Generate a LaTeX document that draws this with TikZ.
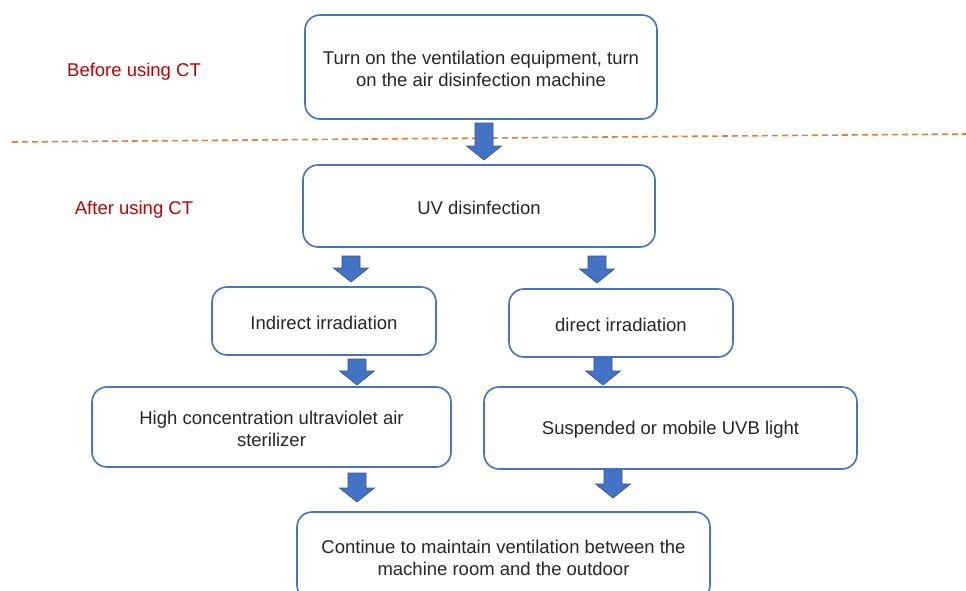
\documentclass[tikz,border=0pt]{standalone}
\usepackage{fontspec}
\setmainfont{Liberation Sans}
\definecolor{boxblue}{HTML}{4472C4}
\definecolor{arrowedge}{HTML}{2F5597}
\definecolor{txtgray}{HTML}{262626}
\definecolor{lblred}{HTML}{C00000}
\definecolor{dashorange}{HTML}{ED7D31}
\tikzset{
  flowbox/.style={draw=boxblue, line width=1.6pt, rounded corners=15pt, fill=white, inner sep=0pt},
  boxtext/.style={align=center, text=txtgray, font=\fontsize{18.5}{21.5}\selectfont, inner sep=0pt, yshift=-2pt},
  sidelabel/.style={text=lblred, font=\fontsize{18.5}{21.5}\selectfont, inner sep=0pt},
  blockarrow/.style={fill=boxblue, draw=arrowedge, line width=0.6pt, line join=miter},
}
% down block arrow: x, ytop, ybottom
\newcommand\dnarrow[3]{%
  \path[blockarrow] (#1-9,#2) -- (#1+9,#2) -- (#1+9,#3-14) -- (#1+17.5,#3-14)
    -- (#1,#3) -- (#1-17.5,#3-14) -- (#1-9,#3-14) -- cycle;}
\begin{document}
\begin{tikzpicture}[x=1pt,y=-1pt]
\clip (0,0) rectangle (966,590);
\fill[white] (0,0) rectangle (966,590);

% dashed separator
\coordinate (dl) at (12,142);
\coordinate (dr) at (966,134);
\draw[dashorange, line width=1.6pt, dash pattern=on 6pt off 4pt] (dl) -- (dr);

% arrows
\dnarrow{484}{123}{160}
\dnarrow{351}{256}{282}
\dnarrow{597}{256}{283}
\dnarrow{357}{359}{385}
\dnarrow{603}{358}{385}
\dnarrow{357}{473}{502}
\dnarrow{613}{470}{498}

% boxes
\node[flowbox, minimum width=352pt, minimum height=104pt] (top) at (481,67) {};
\node[boxtext] (toptext) at (top.center)
  {Turn on the ventilation equipment, turn\\on the air disinfection machine};
\node[flowbox, minimum width=352pt, minimum height=82pt] (uv) at (479,206) {};
\node[boxtext] (uvtext) at (uv.center) {UV disinfection};
\node[flowbox, minimum width=224pt, minimum height=68pt] (ind) at (324,321) {};
\node[boxtext] (indtext) at (ind.center) {Indirect irradiation};
\node[flowbox, minimum width=224pt, minimum height=68pt] (dir) at (621,323) {};
\node[boxtext] (dirtext) at (dir.center) {direct irradiation};
\node[flowbox, minimum width=359pt, minimum height=80pt] (high) at (271.5,427) {};
\node[boxtext] (hightext) at (high.center) {High concentration ultraviolet air\\sterilizer};
\node[flowbox, minimum width=373pt, minimum height=82pt] (susp) at (670.5,428) {};
\node[boxtext] (susptext) at (susp.center) {Suspended or mobile UVB light};
\node[flowbox, minimum width=413pt, minimum height=88pt] (bot) at (503.5,556) {};
\node[boxtext] (bottext) at (bot.center)
  {Continue to maintain ventilation between the\\machine room and the outdoor};

% side labels
\node[sidelabel] (before) at (134,72) {Before using CT};
\node[sidelabel] (after) at (134,210) {After using CT};
\end{tikzpicture}
\end{document}
